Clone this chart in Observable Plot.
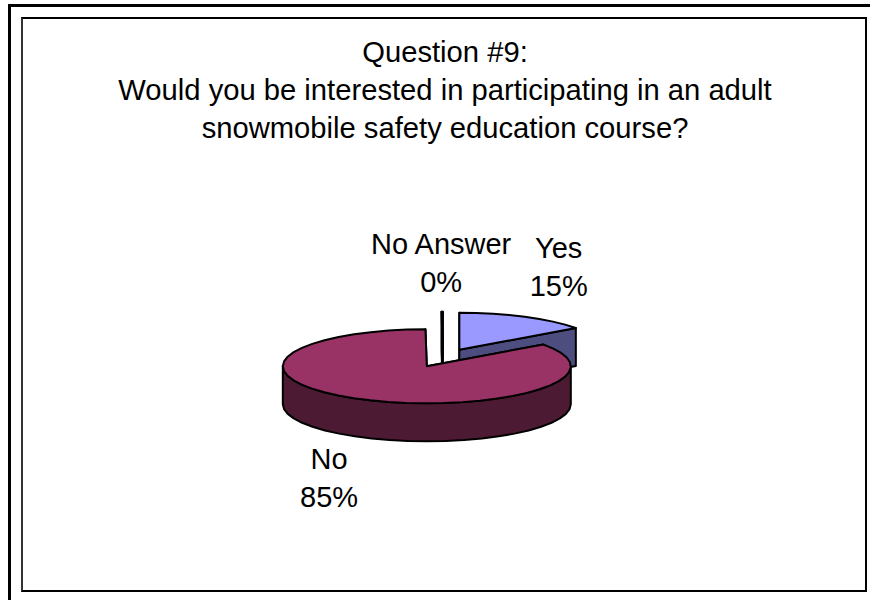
<!DOCTYPE html>
<html><head><meta charset="utf-8">
<script src="https://cdn.jsdelivr.net/npm/d3@7"></script>
<script src="https://cdn.jsdelivr.net/npm/@observablehq/plot@0.6"></script>
<style>
html,body{margin:0;padding:0;background:#fff;overflow:hidden}
#page{position:relative;width:870px;height:600px;font-family:"Liberation Sans",Arial,sans-serif;color:#000}
#outer{position:absolute;left:8px;top:4px;right:0;bottom:0;border-left:3px solid #000;border-top:3px solid #000}
#inner{position:absolute;left:21px;top:17px;width:842px;height:571px;border:2px solid #000;border-left-color:#333;border-top-color:#000}
#title{position:absolute;left:0;width:890px;top:33px;text-align:center;font-size:29.2px;line-height:38px}
#chart{position:absolute;left:0;top:0}
</style></head>
<body><div id="page"><div id="outer"></div><div id="inner"></div>
<div id="title">Question #9:<br>Would you be interested in participating in an adult<br>snowmobile safety education course?</div>
<div id="chart"></div></div>
<script>
const categories = ["Yes", "No", "No Answer"];
const values = [15, 84.85, 0.15];
const topColors = ["#9999ff", "#993366", "#ffffff"];
const wallColors = ["#4d4d80", "#4d1a33", "#ffffff"];
const drawOrder = [2, 0, 1];
const labelOffsets = [[34, -52], [-33, 77], [-1, -51]];

// Pie geometry, in radii of the ellipse
const explode = 0.25, depth = 38 / 37, steps = 48;
const total = d3.sum(values);
let acc = 0;
const slices = categories.map((name, i) => {
  const a0 = acc / total * 2 * Math.PI;
  acc += values[i];
  const a1 = acc / total * 2 * Math.PI;
  const mid = (a0 + a1) / 2;
  return {name, value: values[i], a0, a1, mid, i,
    cx: Math.sin(mid) * explode, cy: Math.cos(mid) * explode};
});
const rim = (s, a, dz = 0) => ({x: s.cx + Math.sin(a), y: s.cy + Math.cos(a) - dz});
const arc = (s, a0, a1, dz = 0) => {
  const n = Math.max(1, Math.ceil((a1 - a0) / (2 * Math.PI) * steps));
  return d3.range(n + 1).map(k => rim(s, a0 + (a1 - a0) * k / n, dz));
};
const apex = (s, dz = 0) => ({x: s.cx, y: s.cy - dz});

const marks = [];
const face = (pts, fill) => marks.push(Plot.line([...pts, pts[0]], {
  x: "x", y: "y", fill, stroke: "#000", strokeWidth: 2, curve: "linear", strokeLinejoin: "round"
}));
for (const idx of drawOrder) {
  const s = slices[idx];
  face([apex(s), rim(s, s.a0), rim(s, s.a0, depth), apex(s, depth)], wallColors[idx]);
  face([apex(s), rim(s, s.a1), rim(s, s.a1, depth), apex(s, depth)], wallColors[idx]);
  const lo = Math.max(s.a0, Math.PI / 2), hi = Math.min(s.a1, 3 * Math.PI / 2);
  if (hi > lo) face([...arc(s, lo, hi), ...arc(s, lo, hi, depth).reverse()], wallColors[idx]);
  face([apex(s), ...arc(s, s.a0, s.a1)], topColors[idx]);
}
// Labels hang off the rim point at each slice's middle angle
slices.forEach((s, i) => marks.push(Plot.text([s], {
  x: d => s.cx + Math.sin(s.mid), y: d => s.cy + Math.cos(s.mid),
  text: d => `${d.name}\n${Math.round(d.value)}%`,
  dx: labelOffsets[i][0], dy: labelOffsets[i][1],
  fontSize: 29, lineHeight: 1.31, fill: "#000", lineAnchor: "middle", textAnchor: "middle",
  fontFamily: "Liberation Sans, Arial, sans-serif"
})));

const rx = 144, ry = 37, px = 442.5, py = 357.5;
document.getElementById("chart").append(Plot.plot({
  width: 870, height: 600, margin: 0,
  x: {domain: [-px / rx, (870 - px) / rx], range: [0, 870], axis: null},
  y: {domain: [py / ry, (py - 600) / ry], range: [0, 600], axis: null},
  style: {background: "transparent", overflow: "visible"},
  marks
}));
</script></body></html>
